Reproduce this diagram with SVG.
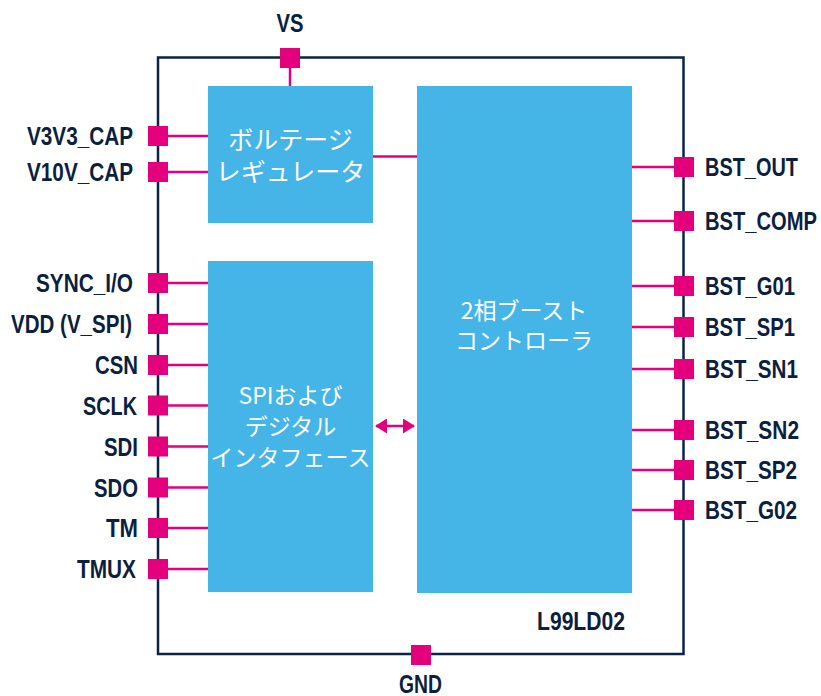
<svg xmlns="http://www.w3.org/2000/svg" width="821" height="696" viewBox="0 0 821 696">
<style>
.blk{fill:#45b4e6}
.pad{fill:#e4007c}
.wire{stroke:#e4007c;stroke-width:2.5;fill:none}
.lbl{font-family:"Liberation Sans",Arial,sans-serif;font-weight:bold;font-size:25px;fill:#0c1f3f}
.jp{font-family:"Noto Sans CJK JP","Noto Sans",sans-serif;font-size:23px;fill:#ffffff;text-anchor:middle}
.jp2{font-size:25px}
</style>
<defs>
<marker id="ah" viewBox="0 0 12 15" refX="11" refY="7.5" markerWidth="12" markerHeight="15" markerUnits="userSpaceOnUse" orient="auto-start-reverse">
<path d="M0,0 L12,7.5 L0,15 Z" fill="#e4007c"/>
</marker>
</defs>
<rect x="0" y="0" width="821" height="696" fill="#ffffff"/>
<g id="chip">
<rect x="158" y="57.5" width="525.5" height="596.5" fill="none" stroke="#0b2346" stroke-width="2.5"/>
<text class="lbl" x="537" y="630" textLength="88" lengthAdjust="spacingAndGlyphs">L99LD02</text>
</g>
<g id="connectors">
<path class="wire" d="M290,68 V86"/>
<path class="wire" d="M168,136 H208 M168,172 H208"/>
<path class="wire" d="M168,283 H208 M168,324 H208 M168,365 H208 M168,405.5 H208 M168,446.5 H208 M168,487.5 H208 M168,528 H208 M168,569 H208"/>
<path class="wire" d="M632,167 H674 M632,221 H674 M632,286 H674 M632,327 H674 M632,369 H674 M632,430 H674 M632,470 H674 M632,510 H674"/>
<path class="wire" d="M373,156.5 H417"/>
<path class="wire" d="M376,426 H414" marker-start="url(#ah)" marker-end="url(#ah)"/>
</g>
<g id="regulator">
<rect class="blk" x="208" y="86" width="165" height="137"/>
<text class="jp jp2" x="290.5" y="149">ボルテージ</text>
<text class="jp jp2" x="290.5" y="181">レギュレータ</text>
</g>
<g id="spi">
<rect class="blk" x="208" y="261" width="165" height="331"/>
<text class="jp" x="290.5" y="404">SPIおよび</text>
<text class="jp" x="290.5" y="435">デジタル</text>
<text class="jp" x="290.5" y="466">インタフェース</text>
</g>
<g id="boost">
<rect class="blk" x="417" y="86" width="215" height="507"/>
<text class="jp" x="524" y="319">2相ブースト</text>
<text class="jp" x="524" y="349">コントローラ</text>
</g>
<g id="pin-VS">
<rect class="pad" x="280" y="48" width="20" height="20"/>
<text class="lbl" x="276.5" y="32" textLength="27" lengthAdjust="spacingAndGlyphs">VS</text>
</g>
<g id="pin-GND">
<rect class="pad" x="411" y="645" width="20" height="20"/>
<text class="lbl" x="399" y="693" textLength="43" lengthAdjust="spacingAndGlyphs">GND</text>
</g>
<g id="pin-V3V3_CAP"><rect class="pad" x="148" y="126" width="20" height="20"/><text class="lbl" x="27" y="145" textLength="106" lengthAdjust="spacingAndGlyphs">V3V3_CAP</text></g>
<g id="pin-V10V_CAP"><rect class="pad" x="148" y="162" width="20" height="20"/><text class="lbl" x="27" y="181" textLength="106" lengthAdjust="spacingAndGlyphs">V10V_CAP</text></g>
<g id="pin-SYNC_IO"><rect class="pad" x="148" y="273" width="20" height="20"/><text class="lbl" x="36" y="292" textLength="97" lengthAdjust="spacingAndGlyphs">SYNC_I/O</text></g>
<g id="pin-VDD"><rect class="pad" x="148" y="314" width="20" height="20"/><text class="lbl" x="11" y="333" textLength="121" lengthAdjust="spacingAndGlyphs">VDD (V_SPI)</text></g>
<g id="pin-CSN"><rect class="pad" x="148" y="355" width="20" height="20"/><text class="lbl" x="95" y="374" textLength="43" lengthAdjust="spacingAndGlyphs">CSN</text></g>
<g id="pin-SCLK"><rect class="pad" x="148" y="395.5" width="20" height="20"/><text class="lbl" x="83" y="414.5" textLength="54" lengthAdjust="spacingAndGlyphs">SCLK</text></g>
<g id="pin-SDI"><rect class="pad" x="148" y="436.5" width="20" height="20"/><text class="lbl" x="104" y="455.5" textLength="34" lengthAdjust="spacingAndGlyphs">SDI</text></g>
<g id="pin-SDO"><rect class="pad" x="148" y="477.5" width="20" height="20"/><text class="lbl" x="94" y="496.5" textLength="44" lengthAdjust="spacingAndGlyphs">SDO</text></g>
<g id="pin-TM"><rect class="pad" x="148" y="518" width="20" height="20"/><text class="lbl" x="106" y="537" textLength="32" lengthAdjust="spacingAndGlyphs">TM</text></g>
<g id="pin-TMUX"><rect class="pad" x="148" y="559" width="20" height="20"/><text class="lbl" x="77" y="578" textLength="59" lengthAdjust="spacingAndGlyphs">TMUX</text></g>
<g id="pin-BST_OUT"><rect class="pad" x="674" y="157" width="20" height="20"/><text class="lbl" x="705" y="176" textLength="93" lengthAdjust="spacingAndGlyphs">BST_OUT</text></g>
<g id="pin-BST_COMP"><rect class="pad" x="674" y="211" width="20" height="20"/><text class="lbl" x="705" y="230" textLength="112" lengthAdjust="spacingAndGlyphs">BST_COMP</text></g>
<g id="pin-BST_G01"><rect class="pad" x="674" y="276" width="20" height="20"/><text class="lbl" x="705" y="295" textLength="90" lengthAdjust="spacingAndGlyphs">BST_G01</text></g>
<g id="pin-BST_SP1"><rect class="pad" x="674" y="317" width="20" height="20"/><text class="lbl" x="705" y="336" textLength="90" lengthAdjust="spacingAndGlyphs">BST_SP1</text></g>
<g id="pin-BST_SN1"><rect class="pad" x="674" y="359" width="20" height="20"/><text class="lbl" x="705" y="378" textLength="93" lengthAdjust="spacingAndGlyphs">BST_SN1</text></g>
<g id="pin-BST_SN2"><rect class="pad" x="674" y="420" width="20" height="20"/><text class="lbl" x="705" y="439" textLength="94" lengthAdjust="spacingAndGlyphs">BST_SN2</text></g>
<g id="pin-BST_SP2"><rect class="pad" x="674" y="460" width="20" height="20"/><text class="lbl" x="705" y="479" textLength="92" lengthAdjust="spacingAndGlyphs">BST_SP2</text></g>
<g id="pin-BST_G02"><rect class="pad" x="674" y="500" width="20" height="20"/><text class="lbl" x="705" y="519" textLength="92" lengthAdjust="spacingAndGlyphs">BST_G02</text></g>
</svg>
